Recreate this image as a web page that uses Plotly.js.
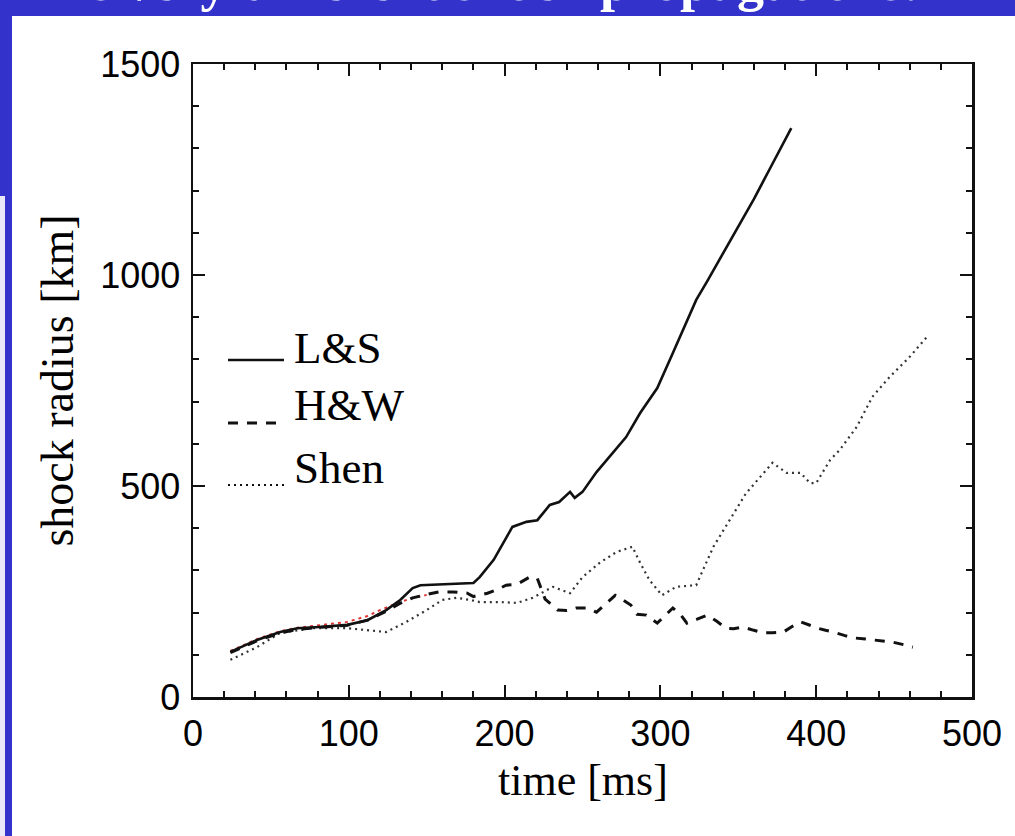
<!DOCTYPE html>
<html>
<head>
<meta charset="utf-8">
<script src="https://cdn.plot.ly/plotly-3.0.1.min.js"></script>
<style>html,body{margin:0;padding:0;background:#fff;}#chart{width:1015px;height:836px;}</style>
</head>
<body>
<div id="chart"></div>
<script>
// ---- data ----
const lsTime   = [24,41,56,67,81,99,112,124,133,141,146,160,176,180,184,193,205,214,221,229,235,242,245,250,259,270,278,287,298,308,317,323,330,340,350,360,370,384];
const lsRadius = [107,135,154,163,166,171,182,206,230,258,265,267,268,270,284,325,403,415,419,455,462,486,472,486,533,581,616,673,732,815,893,941,985,1050,1115,1180,1250,1348];

const hwTime   = [24,41,56,67,81,99,112,124,133,141,150,158,167,176,180,189,195,201,208,216,221,226,234,240,246,253,259,265,271,276,281,285,291,298,303,308,313,317,324,330,336,342,347,353,360,366,372,379,385,390,396,401,406,411,418,424,430,437,443,449,456,462];
const hwRadius = [105,133,152,160,165,170,182,203,222,235,243,249,249,246,238,246,254,265,267,284,281,232,206,205,211,211,201,222,241,230,218,196,194,175,192,211,195,175,185,194,180,163,162,166,158,152,152,154,168,178,170,163,158,154,146,140,138,135,133,130,124,118];

const shenTime   = [24,41,56,77,99,112,124,137,150,160,169,178,184,197,208,218,225,231,242,250,261,272,282,287,293,301,310,323,334,346,355,364,372,381,390,396,400,409,415,426,436,447,460,471];
const shenRadius = [88,118,152,163,163,159,154,178,206,230,235,230,225,225,223,235,249,261,246,284,318,344,356,318,277,241,261,265,356,427,483,521,555,531,531,507,507,562,585,640,711,758,806,853];

const redTime   = [24,41,56,67,81,99,112,120,133,141,150];
const redRadius = [109,137,156,164,170,178,192,206,225,235,242];

const xTickVals = [0,100,200,300,400,500];
const yTickVals = [0,500,1000,1500];
const legendNames = ['L&S','H&W','Shen'];
const xTitle = 'time [ms]';
const yTitle = 'shock radius [km]';
const headerText = 's very different shock propagations!';

// ---- layout geometry (pixels) ----
const W = 1015, H = 836;
const L = 193, R = 43, T = 64, B = 139;
const pw = W - L - R, ph = H - T - B;
const px = x => (x - L) / pw;          // page px -> paper x
const py = y => (H - B - y) / ph;      // page py -> paper y
const BLUE = '#3333cc';
const SERIF = 'Liberation Serif, Times New Roman, serif';

const traces = [
  {x: redTime, y: redRadius, mode: 'lines', line: {color: '#e03535', width: 2, dash: '3px,4px'}, showlegend: false},
  {x: shenTime, y: shenRadius, mode: 'lines', line: {color: '#333', width: 2.2, dash: '2px,4px'}, showlegend: false},
  {x: hwTime, y: hwRadius, mode: 'lines', line: {color: '#111', width: 3, dash: '10px,9px'}, showlegend: false},
  {x: lsTime, y: lsRadius, mode: 'lines', line: {color: '#111', width: 2.6}, showlegend: false}
];

const legendRows = [
  {name: legendNames[0], ly: 360, ty: 348, dash: 'solid', w: 2.6},
  {name: legendNames[1], ly: 423, ty: 405, dash: '10px,9px', w: 3},
  {name: legendNames[2], ly: 485, ty: 468, dash: '2px,4px', w: 2.2}
];

const shapes = [
  {type: 'rect', xref: 'paper', yref: 'paper', x0: px(0), x1: px(W), y0: py(16), y1: py(0), fillcolor: BLUE, line: {width: 0}, layer: 'below'},
  {type: 'rect', xref: 'paper', yref: 'paper', x0: px(0), x1: px(12), y0: py(196), y1: py(0), fillcolor: BLUE, line: {width: 0}, layer: 'below'},
  {type: 'rect', xref: 'paper', yref: 'paper', x0: px(0), x1: px(5), y0: py(H), y1: py(196), fillcolor: '#e8e8f8', line: {width: 0}, layer: 'below'},
  {type: 'rect', xref: 'paper', yref: 'paper', x0: px(5), x1: px(12), y0: py(H), y1: py(196), fillcolor: BLUE, line: {width: 0}, layer: 'below'}
];
legendRows.forEach(r => {
  shapes.push({type: 'line', xref: 'paper', yref: 'paper', x0: px(228), x1: px(284), y0: py(r.ly), y1: py(r.ly),
    line: {color: '#111', width: r.w, dash: r.dash}});
});

const annotations = legendRows.map(r => ({
  xref: 'paper', yref: 'paper', x: px(292), y: py(r.ty), xanchor: 'left', yanchor: 'middle',
  text: r.name, showarrow: false, font: {family: SERIF, size: 45, color: '#000'}
}));
annotations.push({
  xref: 'paper', yref: 'paper', x: px(505), y: py(-18), xanchor: 'center', yanchor: 'middle',
  text: '<b>' + headerText + '</b>', showarrow: false,
  font: {family: SERIF, size: 54, color: '#fff'}
});
annotations.push({
  xref: 'paper', yref: 'paper', x: 0.5, y: py(780), xanchor: 'center', yanchor: 'middle',
  text: xTitle, showarrow: false, font: {family: SERIF, size: 44, color: '#000'}
});

const axisCommon = {
  showgrid: false, zeroline: false, showline: true, linecolor: '#111', linewidth: 2.5,
  mirror: 'allticks', ticks: 'inside', tickcolor: '#111', tickwidth: 2,
  tickfont: {family: 'Liberation Sans, Arial, sans-serif', size: 36, color: '#000'}
};

const layout = {
  width: W, height: H,
  margin: {l: L, r: R, t: T, b: B, pad: 0},
  paper_bgcolor: '#fff', plot_bgcolor: '#fff',
  showlegend: false,
  xaxis: Object.assign({}, axisCommon, {
    range: [0, 500], tickvals: xTickVals, ticklen: 12, ticklabelstandoff: 3,
    minor: {dtick: 20, ticks: 'inside', ticklen: 6, tickcolor: '#111', tickwidth: 2}
  }),
  yaxis: Object.assign({}, axisCommon, {
    range: [0, 1500], tickvals: yTickVals, ticklen: 12, ticklabelstandoff: 3,
    minor: {dtick: 100, ticks: 'inside', ticklen: 6, tickcolor: '#111', tickwidth: 2},
    title: {text: yTitle, standoff: 12, font: {family: SERIF, size: 46, color: '#000'}}
  }),
  shapes: shapes,
  annotations: annotations
};

Plotly.newPlot('chart', traces, layout, {displayModeBar: false, staticPlot: true});
</script>
</body>
</html>
